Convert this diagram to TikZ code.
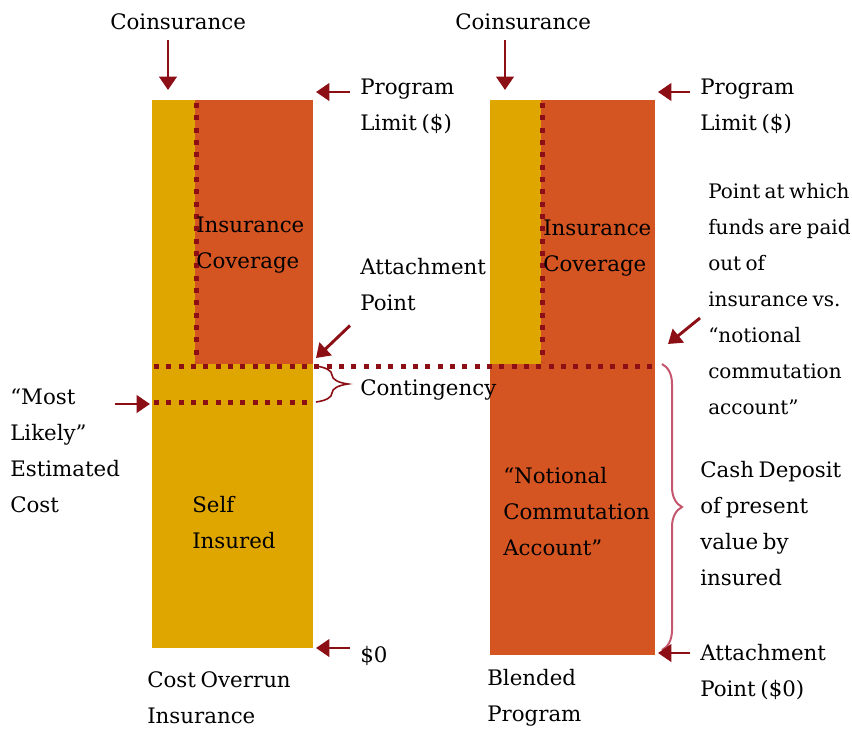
\documentclass[tikz,border=0pt]{standalone}
\usepackage{fontspec}
\setmainfont[WordSpace=0.7]{DejaVu Serif}
\usetikzlibrary{arrows.meta,calc,decorations.pathreplacing}
\definecolor{gold}{HTML}{E0A600}
\definecolor{rust}{HTML}{D45422}
\definecolor{maroon}{HTML}{8B0F14}
\definecolor{rose}{HTML}{C4566E}
\tikzset{
  lbl/.style = {anchor=west, inner sep=0pt, align=left, font=\fontsize{16}{27}\selectfont},
  arr/.style = {maroon, line width=2.2pt, -{Triangle[width=13pt,length=10pt]}},
  dots/.style = {maroon, line width=3.75pt, dash pattern=on 3.75pt off 5.5pt},
  curly/.style = {decorate, decoration={brace, amplitude=#1}}
}

\begin{document}
\begin{tikzpicture}[x=0.75pt, y=-0.75pt]
  \useasboundingbox (0,0) rectangle (852,728);
  % bars
  \fill[gold] (152,100) rectangle (313,648);
  \fill[rust] (195,100) rectangle (313,364);
  \fill[rust] (490,100) rectangle (655,655);
  \fill[gold] (490,100) rectangle (541,364);
  % dotted limits
  \draw[dots] (196,103) -- (196,362);
  \draw[dots] (542,103) -- (542,362);
  \draw[dots] (154,366) -- (655,366);
  \draw[dots] (154,402) -- (313,402);

  % texts inside the bars
  \node[lbl] (insCovL) at (196,245) {Insurance\\Coverage};
  \node[lbl] (selfIns) at (192,523) {Self\\Insured};
  \node[lbl] (insCovR) at (543,248) {Insurance\\Coverage};
  \node[lbl] (notional) at (503,512) {``Notional\\Commutation\\Account''};

  % left program
  \node[lbl] (coinsL) at (110,22) {Coinsurance};
  \coordinate (capL) at (168,90);
  \draw[arr] ($(coinsL.south -| capL)+(0,10)$) -- (capL);
  \node[lbl] (limitL) at (360,106) {Program\\Limit (\$)};
  \coordinate (limTipL) at (316,92);
  \draw[arr] ($(limitL.west |- limTipL)+(-10,0)$) -- (limTipL);
  \node[lbl] (attachL) at (360,285) {Attachment\\Point};
  \coordinate (attTipL) at (316,358);
  \draw[arr] ($(attachL.south west)+(-10,14)$) -- (attTipL);
  \node[lbl] (conting) at (360,390) {Contingency};
  \draw[maroon, line width=1.2pt, curly=24pt] (316,366) -- (316,402);
  \node[lbl] (likely) at (10,451) {``Most\\Likely''\\Estimated\\Cost};
  \coordinate (likTip) at (150,404);
  \draw[arr] ($(likely.west |- likTip)+(105,0)$) -- (likTip);
  \node[lbl] (zeroL) at (360,656) {\$0};
  \coordinate (zeroTip) at (316,648);
  \draw[arr] ($(zeroL.west |- zeroTip)+(-10,0)$) -- (zeroTip);
  \node[lbl] (costOver) at (147,698) {Cost Overrun\\Insurance};

  % right program
  \node[lbl] (coinsR) at (455,22) {Coinsurance};
  \coordinate (capR) at (505,90);
  \draw[arr] ($(coinsR.south -| capR)+(0,10)$) -- (capR);
  \node[lbl] (limitR) at (700,106) {Program\\Limit (\$)};
  \coordinate (limTipR) at (658,92);
  \draw[arr] ($(limitR.west |- limTipR)+(-10,0)$) -- (limTipR);
  \node[lbl, font=\fontsize{15}{27}\selectfont] (pointAt) at (708,299) {Point at which\\funds are paid\\out of\\insurance vs.\\``notional\\commutation\\account''};
  \coordinate (ptTip) at (668,344);
  \draw[arr] ($(pointAt.west)+(-8,19)$) -- (ptTip);
  \draw[rose, line width=1.5pt, curly=15pt] (662,364) -- (662,650);
  \node[lbl] (cashDep) at (700,524) {Cash Deposit\\of present\\value by\\insured};
  \node[lbl] (attachR) at (700,672) {Attachment\\Point (\$0)};
  \coordinate (attTipR) at (658,653);
  \draw[arr] ($(attachR.west |- attTipR)+(-10,0)$) -- (attTipR);
  \node[lbl] (blended) at (487,698) {Blended\\Program};
\end{tikzpicture}
\end{document}
